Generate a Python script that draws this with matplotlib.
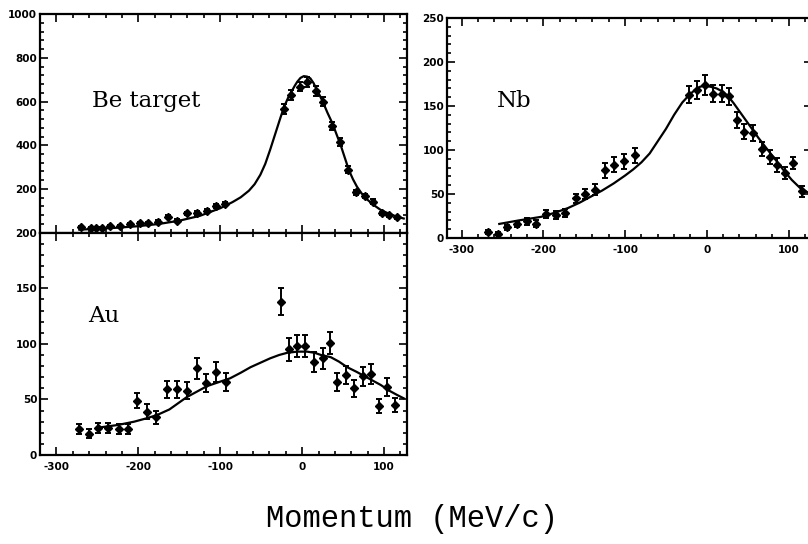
import numpy as np
import matplotlib
matplotlib.use("Agg")
import matplotlib.pyplot as plt
from matplotlib.ticker import MultipleLocator


# Be target: measured points and fit
be_x = [-270, -258, -252, -244, -234, -222, -210, -198, -188, -176, -164, -153,
        -140, -128, -116, -105, -94, -22, -13, -3, 6, 17, 26, 36, 46, 56, 66,
        77, 87, 97, 106, 116]
be_y = [27, 20, 20, 20, 30, 32, 40, 43, 46, 50, 73, 55, 89, 91, 101, 122, 131,
        565, 630, 668, 688, 648, 600, 488, 414, 288, 185, 168, 142, 88, 80, 70]
be_err = [4, 4, 4, 4, 4, 5, 5, 5, 5, 6, 7, 6, 8, 8, 8, 9, 10,
          22, 22, 22, 22, 22, 20, 20, 18, 16, 12, 11, 10, 8, 7, 7]
be_fit_x = [-272, -250, -225, -200, -175, -150, -125, -100, -85, -75, -65, -58,
            -51, -45, -39, -33, -27, -22, -17, -13, -9, -6, -2, 2, 6, 10, 14,
            18, 22, 26, 31, 37, 42, 47, 52, 57, 62, 67, 73, 80, 88, 96, 106,
            116, 124]
be_fit_y = [14, 18, 23, 30, 40, 55, 77, 112, 140, 162, 192, 222, 265, 315, 380,
            450, 520, 576, 618, 645, 672, 690, 708, 716, 714, 706, 684, 652, 624,
            592, 548, 500, 450, 401, 344, 287, 245, 210, 178, 150, 125, 104, 87,
            73, 65]

# Au
au_x = [-272, -260, -249, -237, -224, -213, -201, -189, -178, -165, -153, -141,
        -128, -117, -105, -93, -26, -16, -6, 4, 14, 25, 34, 43, 53, 63, 74, 84,
        94, 103, 113]
au_y = [23, 19, 24, 24, 23, 23, 49, 39, 34, 59, 59, 58, 78, 65, 75, 66, 138, 95,
        98, 98, 84, 87, 101, 66, 72, 60, 71, 73, 44, 61, 45]
au_err = [4.5, 4, 4.5, 4.5, 4.5, 4.5, 7, 6.5, 6, 8, 8, 8, 9.5, 8, 9, 8,
          12, 10, 10, 10, 9, 9.5, 10, 8, 8.5, 7.5, 8.5, 9, 6.5, 8, 6.5]
au_fit_x = [-245, -225, -205, -190, -177, -162, -141, -116, -100, -88, -75, -63,
            -51, -39, -28, -18, -6, 6, 15, 23, 35, 45, 55, 66, 76, 86, 96, 106,
            116, 124]
au_fit_y = [25, 27, 30, 33, 36, 41, 52, 62, 66, 69, 74, 79, 83, 87, 90, 92, 93,
            93, 92, 90, 88, 84, 79, 75, 71, 67, 63, 58, 54, 51]

# Nb
nb_x = [-268, -256, -244, -232, -220, -209, -197, -185, -173, -160, -149, -137,
        -125, -113, -101, -88, -22, -12, -2, 8, 18, 27, 37, 46, 57, 67, 77, 86,
        96, 106, 116]
nb_y = [7, 5, 12, 16, 19, 16, 27, 26, 28, 45, 50, 55, 77, 83, 87, 94, 163, 168,
        174, 164, 164, 161, 134, 121, 119, 101, 92, 83, 74, 85, 53]
nb_err = [2, 2, 3, 3.5, 4, 4, 4.5, 4.5, 4.5, 5.5, 6, 6, 8.5, 8.5, 8.5, 8.5,
          10, 10, 11, 10, 10, 10, 9, 9, 9, 8, 8, 7.5, 7, 7, 6]
nb_fit_x = [-254, -230, -203, -185, -170, -156, -142, -128, -114, -100, -90,
            -80, -70, -60, -50, -40, -30, -22, -15, -8, -2, 4, 12, 20, 27, 33,
            43, 53, 63, 73, 84, 94, 104, 114, 125]
nb_fit_y = [16, 20, 24, 29, 34, 40, 47, 54, 62, 71, 78, 86, 96, 110, 124, 140,
            154, 162, 168, 172, 173, 172, 170, 166, 160, 153, 140, 127, 114, 102,
            89, 77, 66, 57, 51]

plt.rcParams["axes.unicode_minus"] = False
plt.rcParams["font.family"] = "DejaVu Sans"

fig = plt.figure(figsize=(8.08, 5.44), dpi=100)
ax_be = fig.add_axes([0.0495, 0.5722, 0.4542, 0.4020])
ax_au = fig.add_axes([0.0495, 0.1636, 0.4542, 0.4086])
ax_nb = fig.add_axes([0.5532, 0.5625, 0.4515, 0.4044])


def style_axes(ax, ymax, ymajor, yminor, show_x):
    ax.set_ylim(0, ymax)
    ax.xaxis.set_major_locator(MultipleLocator(100))
    ax.xaxis.set_minor_locator(MultipleLocator(20))
    ax.yaxis.set_major_locator(MultipleLocator(ymajor))
    ax.yaxis.set_minor_locator(MultipleLocator(yminor))
    ax.tick_params(which="both", direction="in", top=True, right=True,
                   width=1.2, labelsize=7.5)
    ax.tick_params(which="major", length=6, pad=2)
    ax.tick_params(which="minor", length=3)
    ax.tick_params(axis="x", pad=5, labelbottom=show_x)
    for lab in ax.get_xticklabels() + ax.get_yticklabels():
        lab.set_fontweight("heavy")
    for sp in ax.spines.values():
        sp.set_linewidth(1.6)


def draw_panel(ax, x, y, err, fx, fy):
    ax.errorbar(x, y, yerr=err, fmt="D", ms=4, color="black", ecolor="black",
                elinewidth=1.4, capsize=2.3, capthick=1.4)
    ax.plot(fx, fy, color="black", lw=1.6)


draw_panel(ax_be, be_x, be_y, be_err, be_fit_x, be_fit_y)
draw_panel(ax_au, au_x, au_y, au_err, au_fit_x, au_fit_y)
draw_panel(ax_nb, nb_x, nb_y, nb_err, nb_fit_x, nb_fit_y)

ax_be.set_xlim(-320, 128)
ax_au.set_xlim(-320, 128)
ax_nb.set_xlim(-318, 128.5)

style_axes(ax_be, 1000, 200, 40, False)
style_axes(ax_au, 200, 50, 10, True)
style_axes(ax_nb, 250, 50, 10, True)

# the 0 of the Be panel sits under the 200 of the Au panel
ax_be.set_yticks([200, 400, 600, 800, 1000])
ax_be.set_yticklabels(["200", "400", "600", "800", "1000"], fontweight="heavy")

label_font = dict(family="DejaVu Serif", fontsize=16.5, va="baseline")
ax_be.text(0.142, 0.575, "Be target", transform=ax_be.transAxes, **label_font)
ax_au.text(0.132, 0.600, "Au", transform=ax_au.transAxes, **label_font)
ax_nb.text(0.138, 0.597, "Nb", transform=ax_nb.transAxes, **label_font)

fig.text(0.5105, 1 - 527 / 544, "Momentum (MeV/c)", family="Liberation Mono",
         fontsize=22, ha="center", va="baseline")

fig.savefig("out.png", dpi=100, facecolor="white")
